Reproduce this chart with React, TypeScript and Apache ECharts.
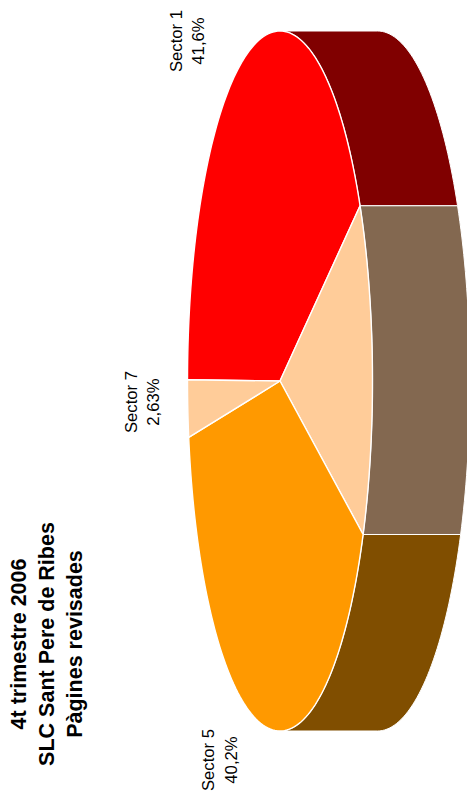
import React, { useEffect, useRef } from "react";
import * as echarts from "echarts";

const sliceNames = ["Sector 1", "Resta", "Sector 5", "Sector 7"];
const sliceValues = [41.6, 15.57, 40.2, 2.63];
const sliceLabels = ["41,6%", "", "40,2%", "2,63%"];
const topColors = ["#ff0000", "#ffcc99", "#ff9900", "#ffcc99"];
const wallColors = ["#800000", "#836850", "#804e00", "#836850"];
const titleLines = ["4t trimestre 2006", "SLC Sant Pere de Ribes", "Pàgines revisades"];

const W = 467, H = 796;
const CX = 280, CY = 381, RX = 92.5, RY = 350, DEPTH = 97.5;
const START = 180.2;
const TOTAL = sliceValues.reduce((a, b) => a + b, 0);
// centre of the two rotated text lines: [name x, value x, y]
const labelPlaces = [[176, 198, 41], null, [208, 231, 760], [131, 153, 402]];

function arc(from: number, to: number, dx: number): number[][] {
  const pts: number[][] = [];
  const n = Math.max(2, Math.ceil(Math.abs(to - from) / 1.5));
  for (let i = 0; i <= n; i++) {
    const t = ((from + ((to - from) * i) / n) * Math.PI) / 180;
    pts.push([CX + dx + RX * Math.cos(t), CY + RY * Math.sin(t)]);
  }
  return pts;
}

function renderSlice(params: any, api: any) {
  const i = params.dataIndex;
  const before = sliceValues.slice(0, i).reduce((a, b) => a + b, 0);
  const a0 = START + (before / TOTAL) * 360;
  const a1 = a0 + (api.value(1) / TOTAL) * 360;
  const px = (p: number[]) => api.coord(p);
  const children: any[] = [];
  // side wall: only the part of the slice on the right-hand half (angles 270..450)
  const w0 = Math.max(a0, 270), w1 = Math.min(a1, 450);
  if (w1 > w0) {
    const pts = [...arc(w0, w1, 0), ...arc(w0, w1, DEPTH).reverse()].map(px);
    children.push({
      type: "polygon",
      z2: 1,
      shape: { points: pts },
      style: { fill: wallColors[i], stroke: "#ffffff", lineWidth: 1 },
    });
  }
  const top = [[CX, CY], ...arc(a0, a1, 0)].map(px);
  children.push({
    type: "polygon",
    z2: 2,
    shape: { points: top },
    style: { fill: topColors[i], stroke: "#ffffff", lineWidth: 1.4, lineJoin: "round" },
  });
  const place = labelPlaces[i];
  if (place) {
    const [nx, vx, ly] = place;
    const font = { fontFamily: "Liberation Sans", fontSize: 16.7, fill: "#000000", align: "center", verticalAlign: "middle" };
    const a = px([nx, ly]);
    const b = px([vx, ly]);
    children.push({ type: "text", z2: 3, x: a[0], y: a[1], rotation: Math.PI / 2, style: { ...font, text: sliceNames[i] } });
    children.push({ type: "text", z2: 3, x: b[0], y: b[1], rotation: Math.PI / 2, style: { ...font, text: sliceLabels[i] } });
  }
  return { type: "group", children };
}

export default function App() {
  const ref = useRef<HTMLDivElement>(null);
  useEffect(() => {
    document.body.style.margin = "0";
    const chart = echarts.init(ref.current!, null, { renderer: "svg" });
    chart.setOption({
      animation: false,
      backgroundColor: "#ffffff",
      grid: { left: 0, top: 0, width: W, height: H, show: false },
      xAxis: { type: "value", min: 0, max: W, show: false },
      yAxis: { type: "value", min: 0, max: H, inverse: true, show: false },
      graphic: titleLines.map((t, i) => ({
        type: "text",
        x: 19 + i * 28,
        y: 644,
        rotation: Math.PI / 2,
        style: {
          text: t,
          fontFamily: "Liberation Sans",
          fontWeight: "bold",
          fontSize: 21.5,
          fill: "#000000",
          align: "center",
          verticalAlign: "middle",
        },
      })),
      series: [
        {
          type: "custom",
          clip: false,
          renderItem: renderSlice,
          data: sliceValues.map((v, i) => [i, v]),
        },
      ],
    });
    return () => chart.dispose();
  }, []);
  return <div ref={ref} style={{ width: W, height: H, position: "absolute", left: 0, top: 0 }} />;
}
